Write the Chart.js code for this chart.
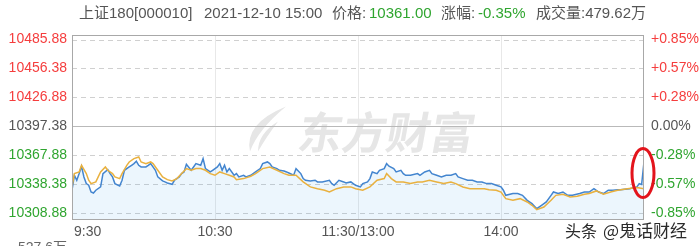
<!DOCTYPE html>
<html>
<head>
<meta charset="utf-8">
<script src="https://cdn.jsdelivr.net/npm/chart.js@4/dist/chart.umd.min.js"></script>
<style>
  html, body { margin: 0; padding: 0; background: #fff; overflow: hidden; }
  #wrap { width: 699px; height: 246px; position: relative; }
</style>
</head>
<body>
<div id="wrap"><canvas id="c" width="699" height="246"></canvas></div>
<script>
// 上证180 intraday (minutes after 9:30, lunch break removed)
const PRE_CLOSE = 10397.38;
const yTickValues = [10308.88, 10338.38, 10367.88, 10397.38, 10426.88, 10456.38, 10485.88];
const timeTickMinutes = [0, 60, 120, 180];
const timeTickLabels = ['9:30', '10:30', '11:30/13:00', '14:00'];

const priceMinutes = [0,1,2,3,4,5,6,7,8,9,10,12,13,15,16,17,18,20,21,22,24,25,26,27,28,29,31,32,33,35,36,38,39,40,42,43,45,46,47,48,50,51,52,54,55,56,58,59,61,62,63,64,65,66,68,69,70,72,73,75,77,79,80,82,83,84,86,87,89,90,91,93,94,96,97,98,100,102,103,105,108,109,110,112,114,115,117,118,119,121,122,124,125,126,128,129,131,132,133,135,136,138,139,140,142,145,146,148,150,151,153,155,157,159,161,162,164,166,168,170,172,174,176,178,180,181,182,185,187,189,191,193,195,197,199,201,202,204,206,208,210,213,215,217,219,221,223,225,227,229,230,234,237,238,239,240];
const priceValues = [10331.9,10347.2,10342.1,10348.9,10356.4,10345.5,10338.7,10337.0,10330.2,10329.1,10331.9,10335.3,10348.9,10353.0,10348.9,10345.5,10338.7,10336.3,10342.1,10352.3,10355.7,10357.4,10359.1,10361.5,10357.4,10355.7,10355.7,10357.4,10359.1,10352.3,10345.5,10341.4,10340.4,10339.3,10338.0,10342.1,10345.5,10348.9,10350.6,10358.4,10352.3,10355.7,10359.1,10357.4,10364.2,10354.0,10350.6,10352.3,10355.7,10359.1,10352.3,10357.4,10350.6,10354.0,10347.2,10348.9,10345.5,10347.2,10345.5,10347.2,10350.6,10354.0,10359.1,10360.8,10359.1,10355.7,10354.0,10352.3,10351.6,10350.6,10349.5,10347.2,10354.0,10348.9,10343.8,10342.1,10341.4,10342.1,10340.4,10340.4,10342.1,10338.7,10337.0,10342.1,10340.4,10339.3,10340.4,10338.7,10337.0,10335.3,10338.7,10340.4,10343.8,10350.6,10348.9,10352.3,10354.0,10359.1,10356.4,10354.0,10350.6,10352.3,10348.9,10347.2,10347.2,10348.9,10347.2,10350.6,10352.3,10348.9,10347.2,10345.5,10347.2,10347.2,10348.9,10345.5,10343.8,10342.1,10342.1,10340.4,10340.4,10338.7,10338.7,10337.0,10335.3,10331.9,10326.7,10328.5,10328.5,10326.7,10321.6,10318.2,10313.1,10316.5,10319.9,10326.7,10330.1,10328.5,10330.1,10326.7,10326.7,10328.5,10330.1,10330.1,10333.5,10330.1,10328.5,10331.9,10331.9,10332.5,10332.5,10333.5,10335.3,10338.7,10337.8,10361.00];

const avgMinutes = [0,1,3,4,6,7,8,10,11,12,14,15,17,18,20,21,23,24,26,28,29,31,33,34,36,38,40,42,44,46,48,50,52,54,56,58,60,62,64,66,68,69,72,75,77,80,83,86,89,91,94,97,100,103,106,108,111,114,117,119,122,125,128,131,132,134,136,139,142,145,147,150,153,156,159,161,164,167,170,173,175,178,180,182,185,188,191,193,195,198,201,203,206,209,212,215,217,220,223,226,229,233,237,240];
const avgValues = [10335.3,10348.9,10350.6,10357.4,10348.9,10342.1,10338.7,10340.4,10345.5,10350.6,10355.7,10352.3,10348.9,10345.5,10343.8,10348.9,10357.4,10360.8,10364.2,10365.9,10360.8,10359.1,10360.8,10359.1,10352.3,10345.5,10342.7,10341.4,10343.8,10348.9,10354.0,10352.3,10354.0,10354.0,10352.3,10348.9,10347.2,10350.6,10348.9,10347.2,10345.5,10342.7,10343.8,10346.2,10348.9,10354.0,10355.7,10352.3,10348.9,10347.2,10347.2,10340.4,10335.3,10333.5,10331.9,10330.1,10333.5,10335.3,10335.3,10333.5,10331.9,10335.3,10342.1,10343.8,10348.9,10343.8,10340.4,10340.4,10338.7,10340.4,10340.4,10342.1,10340.4,10338.7,10340.4,10338.7,10335.3,10333.5,10333.5,10333.5,10332.5,10331.9,10330.1,10323.3,10321.6,10323.3,10319.9,10316.5,10312.1,10314.8,10321.6,10326.7,10327.8,10325.1,10325.7,10327.8,10328.5,10331.2,10327.8,10330.1,10331.9,10333.5,10334.6,10333.5];

const volumeText = '479.62万';
const volumeAxisTopLabel = '527.6万';
const lastPrice = priceValues[priceValues.length - 1];
const changePct = (lastPrice - PRE_CLOSE) / PRE_CLOSE * 100;

const Y_MIN = 10301.5, Y_MAX = 10490.5;
const RED = '#f53d3d', GREEN = '#2fa52f', GRAY = '#555555';
const PRICE_COLOR = '#4385cf', AVG_COLOR = '#e9b13f';
const FONT = "'Liberation Sans', Arial, 'Noto Sans CJK SC', sans-serif";
const CJK = "'Noto Sans CJK SC', 'Liberation Sans', sans-serif";

function tickColor(v) {
  if (v > PRE_CLOSE + 0.01) return RED;
  if (v < PRE_CLOSE - 0.01) return GREEN;
  return GRAY;
}
function pctLabel(v) {
  const p = (v - PRE_CLOSE) / PRE_CLOSE * 100;
  if (Math.abs(p) < 0.005) return '0.00%';
  return (p > 0 ? '+' : '') + p.toFixed(2) + '%';
}

const decor = {
  id: 'decor',
  beforeDatasetsDraw(chart) {
    const { ctx, chartArea: a, scales } = chart;
    const ys = scales.y;
    const cx = (a.left + a.right) / 2, cy = (a.top + a.bottom) / 2;
    ctx.save();
    // brand watermark
    ctx.fillStyle = '#e6e6e6';
    ctx.beginPath();
    ctx.moveTo(cx - 72, cy - 21);
    ctx.quadraticCurveTo(cx - 114, cy - 4, cx - 108, cy + 24);
    ctx.quadraticCurveTo(cx - 100, cy + 2, cx - 72, cy - 21);
    ctx.fill();
    ctx.beginPath();
    ctx.moveTo(cx - 80, cy - 6);
    ctx.quadraticCurveTo(cx - 100, cy + 6, cx - 100, cy + 24);
    ctx.quadraticCurveTo(cx - 92, cy + 10, cx - 80, cy - 6);
    ctx.fill();
    ctx.translate(cx - 62, cy + 21);
    ctx.transform(1, 0, -0.18, 1, 0, 0);
    ctx.font = "bold 44px " + CJK;
    ctx.textBaseline = 'alphabetic';
    ctx.fillText('东方财富', 0, 0);
    ctx.restore();

    // horizontal grid
    ctx.save();
    ctx.lineWidth = 1;
    yTickValues.forEach(v => {
      const py = Math.round(ys.getPixelForValue(v)) + 0.5;
      ctx.beginPath();
      if (Math.abs(v - PRE_CLOSE) < 0.01) {
        ctx.setLineDash([]);
        ctx.strokeStyle = '#b9b9b9';
      } else {
        ctx.setLineDash([5, 4]);
        ctx.strokeStyle = '#d0d0d0';
      }
      ctx.moveTo(a.left, py);
      ctx.lineTo(a.right, py);
      ctx.stroke();
    });
    ctx.restore();
  },
  afterDatasetsDraw(chart) {
    const { ctx, chartArea: a, scales } = chart;
    ctx.save();
    ctx.strokeStyle = '#a8a8a8';
    ctx.lineWidth = 1;
    ctx.strokeRect(a.left + 0.5, a.top + 0.5, a.right - a.left - 1, a.bottom - a.top - 1);
    // highlight ring around the closing jump
    const n = priceValues.length;
    const ex = scales.x.getPixelForValue(priceMinutes[n - 1]) - 1;
    const ey = (scales.y.getPixelForValue(priceValues[n - 1]) + scales.y.getPixelForValue(priceValues[n - 2])) / 2;
    ctx.strokeStyle = '#e3141c';
    ctx.lineWidth = 3;
    ctx.beginPath();
    ctx.ellipse(ex, ey, 11, 24.5, 0, 0, Math.PI * 2);
    ctx.stroke();
    ctx.restore();
  },
  afterDraw(chart) {
    const { ctx, chartArea: a, scales } = chart;
    ctx.save();
    // header line
    ctx.font = '15px ' + FONT;
    ctx.textBaseline = 'middle';
    const hy = 14;
    const parts = [
      ['上证180[000010]', 79, GRAY],
      ['2021-12-10 15:00', 204, GRAY],
      ['价格:', 332, GRAY],
      [lastPrice.toFixed(2), 369, GREEN],
      ['涨幅:', 441, GRAY],
      [changePct.toFixed(2) + '%', 478, GREEN],
      ['成交量:' + volumeText, 536, GRAY]
    ];
    parts.forEach(([t, x, c]) => { ctx.fillStyle = c; ctx.fillText(t, x, hy); });

    // time axis labels
    ctx.font = '14px ' + FONT;
    ctx.fillStyle = GRAY;
    timeTickMinutes.forEach((m, i) => {
      const px = scales.x.getPixelForValue(m);
      ctx.textAlign = i === 0 ? 'left' : 'center';
      ctx.fillText(timeTickLabels[i], i === 0 ? px + 2 : px, 232);
    });

    // top label of the volume panel below
    ctx.textAlign = 'right';
    ctx.textBaseline = 'alphabetic';
    ctx.fillStyle = '#666';
    ctx.fillText(volumeAxisTopLabel, a.left - 5, 252);

    // platform signature
    ctx.textAlign = 'left';
    ctx.textBaseline = 'middle';
    ctx.lineJoin = 'round';
    ctx.lineWidth = 3;
    ctx.strokeStyle = 'rgba(255,255,255,0.95)';
    ctx.fillStyle = '#2a2a2a';
    ctx.font = '16px ' + CJK;
    ctx.strokeText('头条', 565, 231);
    ctx.fillText('头条', 565, 231);
    ctx.font = '17px ' + CJK;
    ctx.strokeText('@鬼话财经', 603, 231);
    ctx.fillText('@鬼话财经', 603, 231);
    ctx.restore();
  }
};

new Chart(document.getElementById('c'), {
  type: 'line',
  data: {
    datasets: [
      {
        label: '均价',
        data: avgMinutes.map((m, i) => ({ x: m, y: avgValues[i] })),
        borderColor: AVG_COLOR,
        borderWidth: 1.5,
        pointRadius: 0,
        fill: false,
        tension: 0
      },
      {
        label: '价格',
        data: priceMinutes.map((m, i) => ({ x: m, y: priceValues[i] })),
        borderColor: PRICE_COLOR,
        backgroundColor: 'rgba(40,150,230,0.09)',
        fill: 'start',
        borderWidth: 1.5,
        pointRadius: 0,
        tension: 0
      }
    ]
  },
  options: {
    responsive: false,
    animation: false,
    devicePixelRatio: 1,
    layout: { padding: { top: 35, left: 0, right: 0, bottom: 0 } },
    plugins: { legend: { display: false }, tooltip: { enabled: false }, title: { display: false } },
    scales: {
      x: {
        type: 'linear',
        min: 0,
        max: 240,
        afterBuildTicks: s => { s.ticks = [60, 120, 180].map(v => ({ value: v })); },
        afterFit: s => { s.height = 26; },
        ticks: { display: false },
        grid: { color: '#e8e8e8', drawTicks: false },
        border: { display: false }
      },
      y: {
        position: 'left',
        min: Y_MIN,
        max: Y_MAX,
        afterBuildTicks: s => { s.ticks = yTickValues.map(v => ({ value: v })); },
        afterFit: s => { s.width = 72; },
        ticks: {
          font: { family: FONT, size: 14 },
          padding: 5,
          color: c => tickColor(c.tick.value),
          callback: v => Number(v).toFixed(2)
        },
        grid: { display: false, drawTicks: false },
        border: { display: false }
      },
      y1: {
        position: 'right',
        min: Y_MIN,
        max: Y_MAX,
        afterBuildTicks: s => { s.ticks = yTickValues.map(v => ({ value: v })); },
        afterFit: s => { s.width = 55; },
        ticks: {
          font: { family: FONT, size: 14 },
          padding: 7,
          color: c => tickColor(c.tick.value),
          callback: v => pctLabel(Number(v))
        },
        grid: { display: false, drawTicks: false },
        border: { display: false }
      }
    }
  },
  plugins: [decor]
});
</script>
</body>
</html>
